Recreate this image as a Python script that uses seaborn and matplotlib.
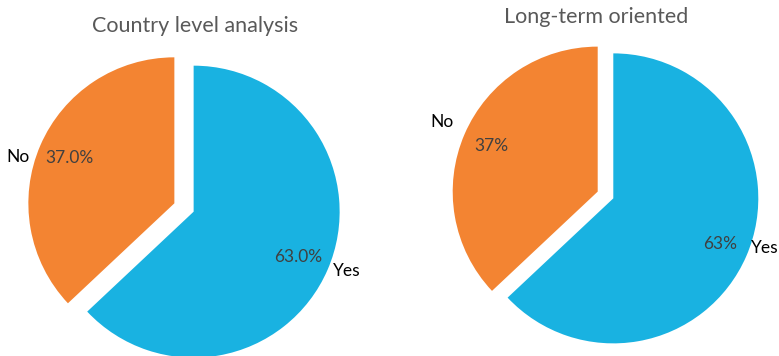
import matplotlib
matplotlib.use("Agg")
import matplotlib.pyplot as plt
import seaborn as sns

# ---- data ----
categories = ["Yes", "No"]
country_level = [63.0, 37.0]
long_term = [63, 37]
titles = ["Country level analysis", "Long-term oriented"]
pct_formats = ["%.1f%%", "%.0f%%"]

sns.set_theme(style="white")
plt.rcParams['font.family'] = ['Lato', 'DejaVu Sans']

colors = ["#19B2E1", "#F38432"]
title_color = "#595959"
pct_color = "#404040"

W, H = 779, 356
fig = plt.figure(figsize=(W / 100, H / 100), dpi=100)
ax = fig.add_axes([0, 0, 1, 1])

# pie layout (pixel-like data units, y upward)
specs = [
    dict(values=country_level, center=(184, H - 207.5), radius=146, explode=10.5,
         pctdist=0.78, title_xy=(195, H - 26), fmt=pct_formats[0], title=titles[0],
         label_pos={"No": (30, H - 157, "right"), "Yes": (333, H - 271, "left")}),
    dict(values=long_term, center=(605.5, H - 195), radius=145, explode=8.5,
         pctdist=0.80, title_xy=(596.5, H - 17), fmt=pct_formats[1], title=titles[1],
         label_pos={"No": (442, H - 122, "center"), "Yes": (751, H - 248, "left")}),
]

for s in specs:
    wedges, texts, autotexts = ax.pie(
        s["values"], colors=colors, startangle=90, counterclock=False,
        explode=[s["explode"]] * len(s["values"]), center=s["center"],
        radius=s["radius"], autopct=s["fmt"], pctdistance=s["pctdist"],
        wedgeprops=dict(linewidth=0), frame=True,
        textprops=dict(color=pct_color, fontsize=12.5))
    for cat in categories:
        x, y, ha = s["label_pos"][cat]
        ax.text(x, y, cat, ha=ha, va="center", fontsize=12.5, color="black")
    ax.text(s["title_xy"][0], s["title_xy"][1], s["title"], ha="center", va="center",
            fontsize=15.5, color=title_color)

ax.set_xlim(0, W)
ax.set_ylim(0, H)
ax.set_aspect("equal")
ax.axis("off")

fig.savefig("out.png", dpi=100, facecolor="white")
